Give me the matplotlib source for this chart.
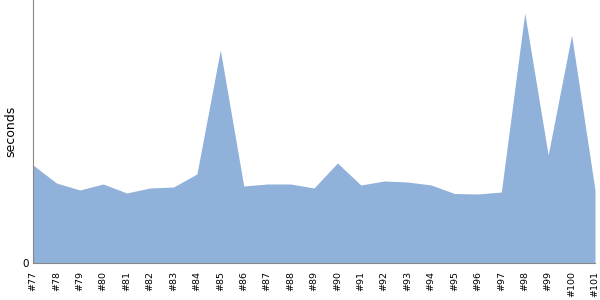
import matplotlib
matplotlib.use("Agg")
import matplotlib.pyplot as plt

# Builds #77 .. #101 and the duration
builds = [f"#{n}" for n in range(77, 102)]
seconds = [98, 80, 73, 79, 70, 75, 76, 89, 213, 77, 79, 79, 75,
           100, 78, 82, 81, 78, 69.5, 69, 71, 250, 108, 228, 73]

fig = plt.figure(figsize=(6, 3), dpi=100)
ax = fig.add_axes([33 / 600, 37 / 300, 562 / 600, 263 / 300])

x = list(range(len(builds)))
ax.fill_between(x, seconds, 0, color="#8fb1da", linewidth=0)

ax.set_xlim(0, len(builds) - 1)
ax.set_ylim(0, 263)
ax.set_xticks(x)
ax.set_xticklabels(builds, rotation=90, fontsize=6.8)
ax.set_yticks([0])
ax.set_yticklabels(["0"], fontsize=7.5)
ax.tick_params(axis="x", length=0, pad=6)
ax.tick_params(axis="y", length=0, pad=3)
ax.set_ylabel("seconds", fontsize=9)
ax.yaxis.set_label_coords(-16 / 562, 0.5)

for side in ["top", "right"]:
    ax.spines[side].set_visible(False)
for side in ["left", "bottom"]:
    ax.spines[side].set_color("#888888")

fig.savefig("out.png", dpi=100)
